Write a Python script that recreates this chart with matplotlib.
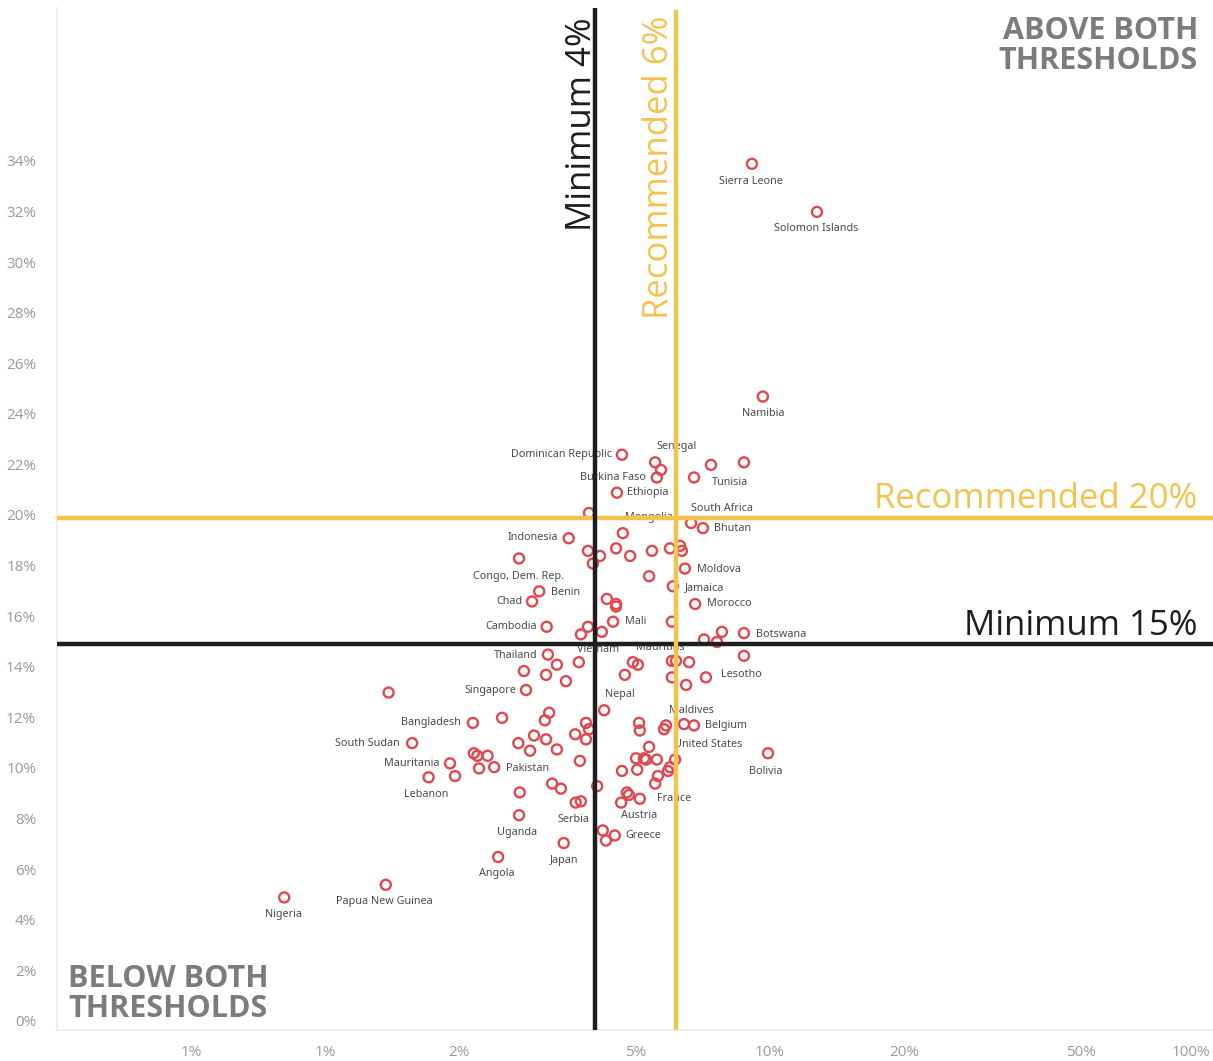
import matplotlib
matplotlib.use('Agg')
import matplotlib.pyplot as plt
import matplotlib.transforms as mtransforms
from matplotlib.ticker import FixedLocator, FixedFormatter, NullLocator

# education spending: share of GDP (x, log) vs share of public expenditure (y)
countries = [
    "Sierra Leone", "Solomon Islands", "Namibia", "Dominican Republic", "Senegal", "",
    "Burkina Faso", "Tunisia", "", "", "Ethiopia", "", "South Africa", "Bhutan", "Mongolia",
    "Indonesia", "", "", "", "", "", "", "", "", "", "Congo, Dem. Rep.", "Moldova", "",
    "Jamaica", "Benin", "Chad", "", "", "", "Morocco", "Mali", "Mauritius", "Cambodia", "",
    "Vietnam", "", "", "Botswana", "", "", "Thailand", "", "", "", "", "", "Singapore", "",
    "", "", "", "", "", "", "Nepal", "", "", "Lesotho", "", "", "", "Bangladesh", "", "",
    "", "", "", "", "", "Maldives", "Belgium", "South Sudan", "", "", "", "", "", "", "",
    "", "", "", "", "Mauritania", "", "Pakistan", "", "", "", "", "", "United States",
    "Bolivia", "", "", "", "", "Lebanon", "", "", "", "", "", "", "", "", "Austria", "",
    "France", "Serbia", "", "Uganda", "", "", "Greece", "Japan", "Angola",
    "Papua New Guinea", "Nigeria",
]
gdp_share = [
    9.11, 12.75, 9.64, 4.65, 5.52, 5.69,
    5.57, 6.75, 7.37, 8.74, 4.53, 3.92, 6.65, 7.07, 4.67,
    3.53, 4.51, 3.90, 4.85, 5.43, 5.96, 6.28, 6.34, 4.15, 4.00, 2.73, 6.44, 5.35,
    6.05, 3.03, 2.92, 4.30, 4.51, 4.51, 6.79, 4.44, 6.02, 3.15, 3.90,
    3.76, 4.19, 7.80, 8.74, 7.11, 7.60, 3.17, 3.32, 3.72, 2.80, 3.14, 3.48, 2.83, 1.39,
    8.74, 4.92, 5.05, 6.02, 6.15, 6.58, 4.72, 6.02, 6.48, 7.18, 2.50, 3.19, 3.12, 2.15, 3.86, 3.92,
    4.24, 5.08, 5.10, 5.84, 5.78, 6.41, 6.75, 1.57, 2.72, 2.95, 3.14, 2.89, 3.32, 3.65, 3.86,
    5.35, 2.16, 2.20, 2.32, 1.91, 2.22, 2.40, 3.74, 5.00, 5.21, 5.27, 5.57, 6.12,
    9.90, 4.65, 5.03, 5.96, 5.90, 1.71, 1.96, 5.60, 5.52, 2.74, 3.24, 3.39, 4.09, 4.77, 4.82, 4.63,
    5.10, 3.66, 3.76, 2.73, 4.21, 4.28, 4.48, 3.44, 2.45,
    1.37, 0.81,
]
budget_share = [
    34.0, 32.1, 24.8, 22.5, 22.2, 21.9,
    21.6, 21.6, 22.1, 22.2, 21.0, 20.2, 19.8, 19.6, 19.4,
    19.2, 18.8, 18.7, 18.5, 18.7, 18.8, 18.9, 18.7, 18.5, 18.2, 18.4, 18.0, 17.7,
    17.3, 17.1, 16.7, 16.8, 16.6, 16.5, 16.6, 15.9, 15.9, 15.7, 15.7,
    15.4, 15.5, 15.5, 15.45, 15.2, 15.1, 14.6, 14.2, 14.3, 13.95, 13.8, 13.55, 13.2, 13.1,
    14.55, 14.3, 14.2, 14.35, 14.35, 14.3, 13.8, 13.7, 13.4, 13.7, 12.1, 12.3, 12.0, 11.9, 11.9, 11.65,
    12.4, 11.9, 11.6, 11.8, 11.65, 11.85, 11.8, 11.1, 11.1, 11.4, 11.25, 10.8, 10.85, 11.45, 11.25,
    10.95, 10.7, 10.6, 10.6, 10.3, 10.1, 10.15, 10.4, 10.5, 10.5, 10.45, 10.45, 10.45,
    10.7, 10.0, 10.05, 10.15, 10.0, 9.75, 9.8, 9.8, 9.5, 9.15, 9.5, 9.3, 9.4, 9.15, 9.05, 8.75,
    8.9, 8.75, 8.8, 8.25, 7.65, 7.25, 7.45, 7.15, 6.6,
    5.5, 5.0,
]

x_ticks = [0.5, 1, 2, 5, 10, 20, 50, 100]
x_tick_labels = ['1%', '1%', '2%', '5%', '10%', '20%', '50%', '100%']
y_ticks = list(range(0, 35, 2))
y_tick_labels = [f'{v}%' for v in y_ticks]

# reference lines, at the positions they are drawn in the chart
min_gdp, rec_gdp = 4.05, 6.15
min_budget, rec_budget = 15, 20

# label placement: offset in pixels from the mark, and alignment
label_offset = {
    "Sierra Leone": (-1, -18, 'center'), "Solomon Islands": (-1, -17, 'center'),
    "Namibia": (0, -17, 'center'), "Senegal": (22, 16, 'center'),
    "Dominican Republic": (-10, 0, 'right'), "Burkina Faso": (-11, 0, 'right'),
    "Tunisia": (18, -5, 'left'), "Ethiopia": (10, 0, 'left'),
    "South Africa": (0, 15, 'left'), "Bhutan": (11, 0, 'left'),
    "Mongolia": (2, 16, 'left'), "Indonesia": (-11, 1, 'right'),
    "Congo, Dem. Rep.": (-1, -18, 'center'), "Moldova": (12, -1, 'left'),
    "Jamaica": (12, -1, 'left'), "Benin": (12, -1, 'left'), "Chad": (-10, 0, 'right'),
    "Morocco": (12, 0, 'left'), "Mali": (12, 0, 'left'), "Cambodia": (-10, 0, 'right'),
    "Botswana": (12, -1, 'left'), "Thailand": (-10, -1, 'right'),
    "Vietnam": (17, -15, 'center'), "Mauritius": (-12, -26, 'center'),
    "Lesotho": (15, 3, 'left'), "Singapore": (-10, 0, 'right'),
    "Nepal": (-5, -20, 'center'), "Maldives": (7, 14, 'center'),
    "Belgium": (11, 0, 'left'), "United States": (-1, 15, 'left'),
    "Bolivia": (-2, -18, 'center'), "Bangladesh": (-12, 0, 'right'),
    "South Sudan": (-12, 0, 'right'), "Mauritania": (-11, 0, 'right'),
    "Pakistan": (12, -1, 'left'), "Lebanon": (-2, -17, 'center'),
    "France": (17, 0, 'left'), "Austria": (10, -21, 'center'),
    "Serbia": (-2, -17, 'center'), "Uganda": (-2, -17, 'center'),
    "Greece": (11, 0, 'left'), "Japan": (0, -17, 'center'),
    "Angola": (-1, -17, 'center'), "Papua New Guinea": (-1, -17, 'center'),
    "Nigeria": (-1, -17, 'center'),
}

RED = '#e0474e'
GOLD = '#f6c24e'
DARK = '#1e1e1e'
GREY = '#7c7c7c'


def main():
    plt.rcParams['font.family'] = ['Open Sans', 'DejaVu Sans']

    fig = plt.figure(figsize=(12.13, 10.61), dpi=100)
    ax = fig.add_axes([57 / 1213, 31 / 1061, 1158 / 1213, 1022 / 1061])
    ax.set_xscale('log')
    ax.set_xlim(0.25, 100)
    ax.set_ylim(-0.24, 40.16)

    ax.scatter(gdp_share, budget_share, s=52, facecolors='none', edgecolors=RED,
               linewidths=1.7, zorder=2)

    for name, x, y in zip(countries, gdp_share, budget_share):
        if not name:
            continue
        dx, dy, ha = label_offset[name]
        ax.annotate(name, (x, y), xytext=(dx, dy), textcoords='offset pixels',
                    ha=ha, va='center', fontsize=7.8, color='#4a4a4a',
                    family=['Noto Sans', 'DejaVu Sans'], zorder=2)

    # threshold lines
    ax.axhline(min_budget, color=DARK, lw=3.2, zorder=3)
    ax.axhline(rec_budget, color=GOLD, lw=3.2, zorder=3)
    ax.axvline(min_gdp, color=DARK, lw=3.2, zorder=4)
    ax.axvline(rec_gdp, color=GOLD, lw=3.2, ymax=0.996, zorder=4)

    big = dict(fontsize=25, zorder=5)
    ax.annotate('Minimum 4%', (min_gdp, 1), xycoords=('data', 'axes fraction'),
                xytext=(4, -9), textcoords='offset pixels', rotation=90,
                ha='right', va='top', color=DARK, **big)
    ax.annotate('Recommended 6%', (rec_gdp, 1), xycoords=('data', 'axes fraction'),
                xytext=(0, -8), textcoords='offset pixels', rotation=90,
                ha='right', va='top', color=GOLD, **big)
    ax.annotate('Recommended 20%', (1, rec_budget), xycoords=('axes fraction', 'data'),
                xytext=(-18, 10), textcoords='offset pixels',
                ha='right', va='baseline', color=GOLD, **big)
    ax.annotate('Minimum 15%', (1, min_budget), xycoords=('axes fraction', 'data'),
                xytext=(-18, 9), textcoords='offset pixels',
                ha='right', va='baseline', color=DARK, **big)

    corner = dict(fontsize=22, fontweight='bold', color=GREY, linespacing=1.02,
                  textcoords='offset pixels', xycoords='axes fraction', zorder=5)
    ax.annotate('ABOVE BOTH\nTHRESHOLDS', (1, 1), xytext=(-17, -8),
                ha='right', va='top', multialignment='right', **corner)
    ax.annotate('BELOW BOTH\nTHRESHOLDS', (0, 0), xytext=(11, 6),
                ha='left', va='bottom', multialignment='left', **corner)

    ax.xaxis.set_major_locator(FixedLocator(x_ticks))
    ax.xaxis.set_major_formatter(FixedFormatter(x_tick_labels))
    ax.xaxis.set_minor_locator(NullLocator())
    ax.yaxis.set_major_locator(FixedLocator(y_ticks))
    ax.yaxis.set_major_formatter(FixedFormatter(y_tick_labels))
    ax.tick_params(axis='both', length=0, labelsize=11, labelcolor='#9a9a9a')
    ax.tick_params(axis='x', pad=11)
    ax.tick_params(axis='y', pad=15)
    last = ax.get_xticklabels()[-1]
    last.set_ha('right')
    last.set_transform(last.get_transform()
                       + mtransforms.ScaledTranslation(-5 / 100, 0, fig.dpi_scale_trans))
    lift = mtransforms.ScaledTranslation(0, 3 / 100, fig.dpi_scale_trans)
    for lab in ax.get_yticklabels():
        lab.set_transform(lab.get_transform() + lift)

    for side in ('top', 'right'):
        ax.spines[side].set_visible(False)
    for side in ('left', 'bottom'):
        ax.spines[side].set_color('#eeeeee')
        ax.spines[side].set_linewidth(1.5)

    fig.savefig('out.png', dpi=100, facecolor='white')


if __name__ == '__main__':
    main()
